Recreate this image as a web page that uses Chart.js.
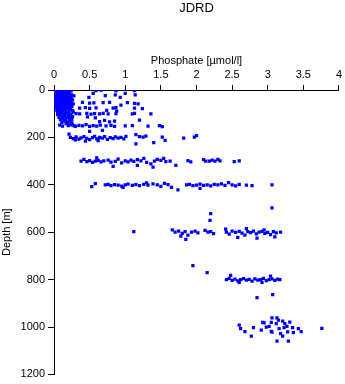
<!DOCTYPE html>
<html>
<head>
<meta charset="utf-8">
<script src="https://cdn.jsdelivr.net/npm/chart.js@4/dist/chart.umd.min.js"></script>
<style>
  body { margin: 0; background: #fff; }
  #jdrd { display: block; }
</style>
</head>
<body>
<canvas id="jdrd" width="345" height="384"></canvas>
<script>
// phosphate [umol/l], depth [m] pairs, grouped by sampling depth band
var surfaceBlob = [
    [0.02, 0], [0.05, 1], [0.08, 0], [0.11, 2], [0.14, 0], [0.17, 1], [0.20, 0], [0.23, 2],
    [0.03, 5], [0.06, 6], [0.09, 4], [0.12, 5], [0.15, 7], [0.18, 5], [0.21, 6], [0.24, 4],
    [0.02, 10], [0.05, 11], [0.08, 9], [0.11, 10], [0.14, 12], [0.17, 10], [0.20, 11],
    [0.04, 15], [0.07, 16], [0.10, 14], [0.13, 15], [0.16, 17], [0.19, 15], [0.22, 16],
    [0.03, 20], [0.06, 21], [0.09, 19], [0.12, 20], [0.15, 22], [0.18, 20], [0.25, 21],
    [0.05, 25], [0.08, 26], [0.11, 24], [0.14, 25], [0.20, 26], [0.28, 25],
    [0.03, 32], [0.07, 30], [0.12, 33], [0.17, 31], [0.22, 34],
    [0.01, 35], [0.09, 36], [0.14, 29], [0.19, 36], [0.24, 30],
    [0.05, 40], [0.10, 38], [0.15, 41], [0.20, 39], [0.26, 42],
    [0.02, 44], [0.07, 45], [0.12, 44], [0.17, 46], [0.22, 45],
    [0.04, 48], [0.09, 50], [0.14, 47], [0.19, 50], [0.24, 52],
    [0.02, 54], [0.07, 55], [0.12, 54], [0.17, 55], [0.22, 57],
    [0.06, 58], [0.11, 60], [0.16, 57], [0.21, 61], [0.27, 59],
    [0.03, 63], [0.08, 64], [0.13, 62], [0.18, 65], [0.23, 64],
    [0.05, 68], [0.10, 70], [0.15, 66], [0.20, 72], [0.25, 69],
    [0.03, 74], [0.08, 73], [0.13, 75], [0.18, 73], [0.22, 76],
    [0.08, 78], [0.13, 80], [0.18, 77], [0.23, 82],
    [0.06, 83], [0.11, 85], [0.16, 83], [0.26, 86],
    [0.04, 86], [0.10, 90], [0.16, 88], [0.21, 91], [0.27, 93],
    [0.05, 94], [0.09, 95], [0.14, 93], [0.19, 95],
    [0.07, 98], [0.12, 100], [0.18, 97], [0.24, 102],
    [0.05, 104], [0.10, 105], [0.15, 104], [0.22, 106],
    [0.09, 108], [0.15, 110], [0.20, 107], [0.26, 112],
    [0.07, 115], [0.12, 114], [0.17, 116], [0.22, 117],
    [0.12, 120], [0.19, 118], [0.25, 124],
    [0.09, 125], [0.16, 126], [0.22, 129],
    [0.14, 130], [0.20, 134], [0.11, 137], [0.18, 138], [0.25, 139],
    [0.17, 142], [0.23, 146], [0.28, 150]
];

var upperScatter = [
    [0.59, 3], [0.66, 0], [0.72, 24], [0.87, 4], [0.86, 21], [0.93, 31], [1.00, 14],
    [1.13, 3], [1.14, 21], [1.03, 53], [0.49, 31], [0.55, 14], [0.78, 52],
    [0.40, 52], [0.50, 55], [0.56, 54], [0.69, 53], [1.13, 56], [1.18, 59],
    [0.36, 76], [0.44, 74], [0.50, 78], [0.59, 75], [0.83, 76], [0.87, 74], [1.13, 76], [1.24, 79],
    [0.31, 100], [0.36, 101], [0.46, 99], [0.52, 102], [0.57, 100], [0.64, 101],
    [0.69, 99], [0.76, 101], [0.87, 100], [1.10, 101], [1.13, 99], [1.36, 101],
    [0.64, 133], [0.71, 128], [0.78, 135], [0.85, 131], [1.20, 127],
    [0.08, 148], [0.12, 152], [0.20, 150], [0.26, 147], [0.30, 153], [0.35, 149],
    [0.40, 151], [0.45, 146], [0.50, 154], [0.55, 150], [0.60, 152], [0.65, 148],
    [0.73, 151], [0.80, 149], [0.85, 153], [1.00, 151], [1.10, 150], [1.32, 152],
    [1.48, 150], [1.52, 155],
    [0.47, 113], [0.58, 118], [0.88, 89], [0.94, 64], [0.74, 86], [0.68, 170], [0.50, 175]
];

var band200 = [
    [0.23, 200], [0.27, 205], [0.31, 198], [0.35, 207], [0.38, 202], [0.42, 197],
    [0.46, 204], [0.50, 209], [0.54, 201], [0.57, 196], [0.60, 206], [0.64, 200],
    [0.68, 203], [0.71, 197], [0.75, 208], [0.79, 201], [0.83, 205], [0.86, 198],
    [0.90, 203], [0.94, 200], [0.98, 206], [1.01, 196], [1.15, 188], [1.20, 197],
    [1.25, 199], [1.29, 195], [1.40, 222], [1.52, 199], [1.56, 213], [1.15, 227],
    [1.82, 203], [1.97, 199], [2.00, 192], [0.21, 186], [0.44, 216], [0.62, 214], [0.30, 210]
];

var band300 = [
    [0.38, 300], [0.42, 293], [0.46, 302], [0.50, 298], [0.54, 305], [0.58, 300],
    [0.62, 297], [0.66, 303], [0.70, 299], [0.76, 296], [0.80, 304], [0.86, 301],
    [0.90, 292], [0.95, 307], [1.00, 299], [1.04, 303], [1.08, 296], [1.12, 301],
    [1.17, 294], [1.22, 299], [1.26, 289], [1.30, 305], [1.36, 312], [1.41, 300],
    [1.45, 293], [1.50, 297], [1.54, 288], [1.57, 302], [1.63, 300], [1.71, 318],
    [1.88, 298], [1.92, 303], [2.10, 294], [2.13, 300], [2.18, 300], [2.22, 296],
    [2.26, 300], [2.30, 293], [2.33, 299], [2.53, 302], [2.60, 299], [1.17, 318],
    [0.83, 322], [0.60, 286], [1.39, 325]
];

var band400 = [
    [0.53, 408], [0.58, 395], [0.72, 400], [0.76, 398], [0.80, 403], [0.85, 399],
    [0.90, 401], [0.95, 406], [1.00, 400], [1.04, 397], [1.10, 402], [1.15, 399],
    [1.20, 404], [1.26, 398], [1.32, 401], [1.39, 396], [1.45, 400], [1.50, 407],
    [1.55, 394], [1.60, 399], [1.65, 411], [1.74, 421], [1.86, 400], [1.90, 398],
    [1.95, 403], [2.00, 401], [2.05, 397], [2.10, 402], [2.15, 400], [2.20, 405],
    [2.25, 398], [2.30, 400], [2.35, 396], [2.40, 402], [2.45, 391], [2.50, 400],
    [2.55, 405], [2.60, 398], [2.70, 401], [2.78, 404], [3.06, 400], [0.97, 411],
    [1.30, 392], [2.05, 415]
];

var band600 = [
    [3.06, 497], [2.20, 522], [2.19, 550], [2.41, 587], [1.12, 598],
    [1.66, 590], [1.70, 600], [1.75, 595], [1.80, 605], [1.84, 598], [1.88, 612],
    [1.93, 600], [1.98, 595], [2.02, 603], [1.78, 617],
    [2.12, 592], [2.16, 600], [2.20, 598], [2.24, 606],
    [2.42, 600], [2.46, 608], [2.50, 595], [2.55, 601], [2.60, 597], [2.64, 604],
    [2.68, 612], [2.72, 598], [2.76, 602], [2.80, 595], [2.84, 607], [2.88, 600],
    [2.92, 596], [2.96, 605], [3.00, 601], [3.04, 610], [3.08, 598], [3.12, 603],
    [3.18, 600], [2.58, 622], [2.85, 625], [2.95, 590], [2.70, 585], [1.85, 630], [3.10, 620]
];

var band800 = [
    [1.95, 741], [2.15, 771],
    [2.42, 800], [2.46, 795], [2.50, 803], [2.54, 798], [2.58, 805], [2.62, 800],
    [2.66, 796], [2.70, 802], [2.74, 799], [2.78, 806], [2.82, 797], [2.86, 802],
    [2.90, 800], [2.94, 795], [2.98, 804], [3.02, 800], [3.06, 797], [3.10, 803],
    [3.14, 798], [3.17, 800], [2.60, 812], [2.92, 812], [3.04, 785], [2.48, 782],
    [2.85, 876], [3.07, 863]
];

var band1000 = [
    [2.60, 992], [2.62, 1007], [2.68, 1020], [2.80, 1003], [2.77, 1038], [2.91, 1013],
    [2.95, 983], [3.02, 997], [3.05, 1018], [3.06, 962], [3.05, 980], [3.13, 962],
    [3.15, 971], [3.12, 986], [3.16, 1007], [3.18, 1028], [3.21, 975], [3.24, 986],
    [3.27, 997], [3.28, 1021], [3.31, 979], [3.35, 1003], [3.36, 1024], [3.43, 1007],
    [3.47, 1020], [3.13, 1060], [3.29, 1060], [3.21, 1039], [2.98, 1001], [3.06, 1022],
    [2.93, 980], [3.23, 1003], [3.76, 1006]
];

var xTicks = [0, 0.5, 1, 1.5, 2, 2.5, 3, 3.5, 4];
var xTickLabels = ["0", "0.5", "1", "1.5", "2", "2.5", "3", "3.5", "4"];
var yTicks = [0, 200, 400, 600, 800, 1000, 1200];
var yTickLabels = ["0", "200", "400", "600", "800", "1000", "1200"];

var bands = [surfaceBlob, upperScatter, band200, band300, band400, band600, band800, band1000];

var axisFont = { family: "'Liberation Sans', Arial, sans-serif", size: 11 };

function labelFor(ticks, labels, value) {
    var i = ticks.indexOf(value);
    return i < 0 ? "" : labels[i];
}

var datasets = bands.map(function(band) {
    return {
        data: band.map(function(p) { return { x: p[0], y: p[1] }; }),
        pointStyle: 'rect',
        pointRadius: 2.3,
        borderWidth: 0,
        backgroundColor: '#0000ff',
        showLine: false
    };
});

var ctxJdrd = document.getElementById("jdrd");

new Chart(ctxJdrd, {
    type: "scatter",
    data: { datasets: datasets },
    options: {
        responsive: false,
        animation: false,
        devicePixelRatio: 1,
        events: [],
        layout: { padding: { left: 0, right: 6, top: 0, bottom: 9 } },
        plugins: {
            legend: { display: false },
            tooltip: { enabled: false },
            title: {
                display: true,
                text: "JDRD",
                fullSize: false,
                color: '#000',
                font: { family: axisFont.family, size: 13, weight: 'normal' },
                padding: { top: 1, bottom: 0 }
            }
        },
        scales: {
            x: {
                type: 'linear',
                position: 'top',
                min: 0,
                max: 4,
                afterFit: function(scale) { scale.height = 73.4; },
                ticks: {
                    stepSize: 0.5,
                    color: '#000',
                    font: axisFont,
                    padding: 3,
                    maxRotation: 0,
                    callback: function(value) { return labelFor(xTicks, xTickLabels, value); }
                },
                grid: { drawOnChartArea: false, drawTicks: true, tickLength: 5, color: '#000' },
                border: { color: '#000', width: 1 },
                title: {
                    display: true,
                    text: "Phosphate [µmol/l]",
                    color: '#000',
                    font: axisFont,
                    padding: { top: 38, bottom: 0 }
                }
            },
            y: {
                type: 'linear',
                reverse: true,
                min: 0,
                max: 1200,
                afterFit: function(scale) { scale.width = 54; },
                ticks: {
                    stepSize: 200,
                    color: '#000',
                    font: axisFont,
                    padding: 3,
                    callback: function(value) { return labelFor(yTicks, yTickLabels, value); }
                },
                grid: { drawOnChartArea: false, drawTicks: true, tickLength: 6, color: '#000' },
                border: { color: '#000', width: 1 },
                title: {
                    display: true,
                    text: "Depth [m]",
                    color: '#000',
                    font: axisFont,
                    padding: { top: 0, bottom: 0 }
                }
            }
        }
    }
});
</script>
</body>
</html>
